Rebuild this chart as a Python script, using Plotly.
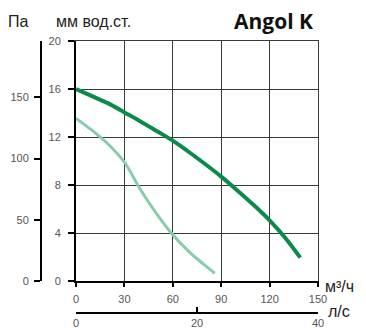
import plotly.graph_objects as go

# Data (m3/h vs mm water column)
flow_dark = [0, 10, 20, 30, 40, 50, 60, 70, 80, 90, 100, 110, 120, 130, 139]
press_dark = [16.0, 15.4, 14.8, 14.05, 13.3, 12.5, 11.7, 10.75, 9.75, 8.7, 7.55, 6.35, 5.05, 3.55, 1.95]
flow_light = [0, 10, 20, 30, 40, 50, 60, 70, 80, 86]
press_light = [13.55, 12.55, 11.4, 9.9, 7.6, 5.6, 3.85, 2.45, 1.3, 0.65]

x_ticks = [0, 30, 60, 90, 120, 150]
y_ticks = [0, 4, 8, 12, 16, 20]
pa_ticks = [0, 50, 100, 150]
ls_ticks = [0, 20, 40]

MM_TO_PA = 9.80665
OFF = 8  # default body margin of the html page
W, H = 366 - OFF, 332 - OFF
ml, mr, mt, mb = 41 - OFF, 48, 41 - OFF, 19
pw, ph = W - ml - mr, H - mt - mb
xdom0 = 35 / pw
ydom0 = 32 / ph

tickfont = dict(family="Liberation Sans", size=11, color="#555555")
GRID = "#3a3a3a"

fig = go.Figure()
fig.add_trace(go.Scatter(x=flow_light, y=press_light, mode="lines",
                         line=dict(color="#86cdab", width=3, shape="spline"),
                         showlegend=False, hoverinfo="skip"))
fig.add_trace(go.Scatter(x=flow_dark, y=press_dark, mode="lines",
                         line=dict(color="#0a8a4b", width=4, shape="spline"),
                         showlegend=False, hoverinfo="skip"))
# empty traces binding the secondary axes
fig.add_trace(go.Scatter(x=[None], y=[None], yaxis="y2", showlegend=False, hoverinfo="skip"))
fig.add_trace(go.Scatter(x=[None], y=[None], xaxis="x2", showlegend=False, hoverinfo="skip"))
fig.add_trace(go.Scatter(x=[None], y=[None], xaxis="x3", yaxis="y3", showlegend=False, hoverinfo="skip"))

fig.update_layout(
    width=W, height=H,
    margin=dict(l=ml, r=mr, t=mt, b=mb, autoexpand=False),
    paper_bgcolor="white", plot_bgcolor="white",
    xaxis=dict(domain=[xdom0, 1], range=[0, 150], tickvals=x_ticks, automargin=False,
               showgrid=True, gridcolor=GRID, gridwidth=1.3,
               showline=True, linecolor="black", linewidth=2,
               ticks="outside", ticklen=4, tickcolor="black", tickwidth=1.5,
               ticklabelstandoff=3,
               tickfont=tickfont, zeroline=False, anchor="y", fixedrange=True),
    yaxis=dict(domain=[ydom0, 1], range=[0, 20], tickvals=y_ticks, automargin=False,
               showgrid=True, gridcolor=GRID, gridwidth=1.3,
               showline=True, linecolor="black", linewidth=2,
               ticks="outside", ticklen=6, tickcolor="black", tickwidth=1.5,
               ticklabelstandoff=5,
               tickfont=tickfont, zeroline=False, anchor="x", fixedrange=True),
    # frame lines at top / right (grey, like grid)
    xaxis3=dict(domain=[xdom0, 1], range=[0, 150], overlaying="x", anchor="y", side="top",
                automargin=False,
                showgrid=False, showline=True, linecolor=GRID, linewidth=1.3,
                showticklabels=False, ticks="", zeroline=False, fixedrange=True),
    yaxis3=dict(domain=[ydom0, 1], range=[0, 20], overlaying="y", anchor="x", side="right",
                automargin=False,
                showgrid=False, showline=True, linecolor=GRID, linewidth=1.3,
                showticklabels=False, ticks="", zeroline=False, fixedrange=True),
    yaxis2=dict(domain=[ydom0, 1], range=[0, 20 * MM_TO_PA], tickvals=pa_ticks,
                overlaying="y", anchor="free", position=0, side="left", automargin=False,
                showgrid=False, showline=True, linecolor="black", linewidth=2,
                ticks="outside", ticklen=6, tickcolor="black", tickwidth=1.5,
                ticklabelstandoff=3,
                tickfont=tickfont, zeroline=False, fixedrange=True),
    xaxis2=dict(domain=[xdom0, 1], range=[0, 40], tickvals=ls_ticks,
                overlaying="x", anchor="free", position=0, side="bottom", automargin=False,
                showgrid=False, showline=True, linecolor="black", linewidth=2,
                ticks="inside", ticklen=5, tickcolor="black", tickwidth=1.5,
                tickfont=tickfont, zeroline=False, fixedrange=True),
    annotations=[
        dict(text="Па", xref="paper", yref="paper", x=(6 - 41) / pw, y=1 + 20 / ph,
             xanchor="left", yanchor="middle", showarrow=False,
             font=dict(family="Liberation Sans", size=16, color="#222222")),
        dict(text="мм вод.ст.", xref="paper", yref="paper", x=(54 - 41) / pw, y=1 + 20 / ph,
             xanchor="left", yanchor="middle", showarrow=False,
             font=dict(family="Liberation Sans", size=16, color="#222222")),
        dict(text="<b>Angol K</b>", xref="paper", yref="paper", x=(315 - 41) / pw, y=1 + 20 / ph,
             xanchor="right", yanchor="middle", showarrow=False,
             font=dict(family="Open Sans", size=21, color="#111111")),
        dict(text="м³/ч", xref="paper", yref="y", x=1, y=0,
             xanchor="left", yanchor="middle", showarrow=False, xshift=5, yshift=-5,
             font=dict(family="Liberation Sans", size=16, color="#222222")),
        dict(text="л/с", xref="paper", yref="paper", x=1, y=0,
             xanchor="left", yanchor="middle", showarrow=False, xshift=8, yshift=2,
             font=dict(family="Liberation Sans", size=16, color="#222222")),
    ],
)

fig.write_html("out.html")
